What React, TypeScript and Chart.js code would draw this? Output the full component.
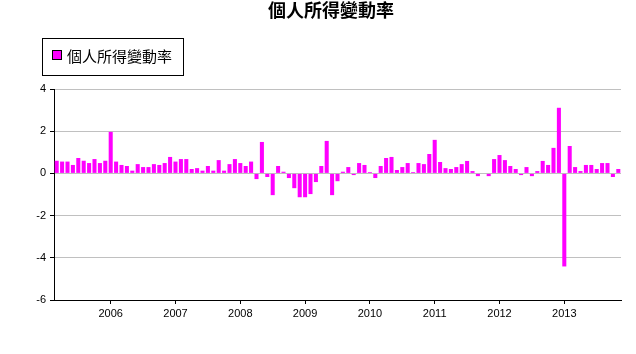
import React, { useEffect, useRef } from "react";
import { Chart, registerables } from "chart.js";

Chart.register(...registerables);

const TITLE = "個人所得變動率";
const SERIES_NAME = "個人所得變動率";
const START_YEAR = 2005;
const START_MONTH = 3;

const values2005 = [0.6, 0.56, 0.56, 0.4, 0.73, 0.6, 0.49, 0.68, 0.49, 0.6];
const values2006 = [1.97, 0.56, 0.4, 0.35, 0.13, 0.44, 0.3, 0.3, 0.44, 0.4, 0.49, 0.78];
const values2007 = [0.56, 0.68, 0.68, 0.21, 0.25, 0.13, 0.35, 0.13, 0.63, 0.13, 0.44, 0.68];
const values2008 = [0.49, 0.35, 0.56, -0.27, 1.49, -0.17, -1.03, 0.35, 0.08, -0.22, -0.7, -1.13];
const values2009 = [-1.13, -0.98, -0.41, 0.35, 1.54, -1.03, -0.37, 0.08, 0.3, -0.08, 0.49, 0.4];
const values2010 = [0.06, -0.22, 0.35, 0.73, 0.78, 0.16, 0.3, 0.49, 0.06, 0.49, 0.44, 0.92];
const values2011 = [1.59, 0.54, 0.25, 0.21, 0.3, 0.44, 0.59, 0.11, -0.13, 0, -0.13, 0.68];
const values2012 = [0.87, 0.63, 0.35, 0.21, -0.08, 0.3, -0.13, 0.11, 0.59, 0.4, 1.21, 3.11];
const values2013 = [-4.41, 1.3, 0.3, 0.11, 0.4, 0.4, 0.21, 0.49, 0.49, -0.17, 0.21];

const values = [
  ...values2005,
  ...values2006,
  ...values2007,
  ...values2008,
  ...values2009,
  ...values2010,
  ...values2011,
  ...values2012,
  ...values2013,
];

const categories: string[] = values.map((_, i) => {
  const m0 = START_MONTH - 1 + i;
  const y = START_YEAR + Math.floor(m0 / 12);
  const m = (m0 % 12) + 1;
  return `${y}-${m < 10 ? "0" + m : m}`;
});

const yTicks = [-6, -4, -2, 0, 2, 4];

const BAR_COLOR = "#FF00FF";
const AXIS_FONT = "'Liberation Sans', Arial, sans-serif";
const CJK_FONT = "'Noto Sans CJK TC', 'Noto Sans CJK SC', sans-serif";

const overlayPlugin = {
  id: "overlay",
  afterDraw(chart: any) {
    const ctx = chart.ctx;
    ctx.save();
    // title
    ctx.fillStyle = "#000";
    ctx.font = `bold 18px ${CJK_FONT}`;
    ctx.textAlign = "center";
    ctx.textBaseline = "middle";
    ctx.fillText(TITLE, 331, 10);
    // legend box
    ctx.strokeStyle = "#000";
    ctx.lineWidth = 1;
    ctx.fillStyle = "#fff";
    ctx.fillRect(42.5, 38.5, 141, 37);
    ctx.strokeRect(42.5, 38.5, 141, 37);
    ctx.fillStyle = BAR_COLOR;
    ctx.fillRect(52.5, 50.5, 9, 9);
    ctx.strokeRect(52.5, 50.5, 9, 9);
    ctx.fillStyle = "#000";
    ctx.font = `15px ${CJK_FONT}`;
    ctx.textAlign = "left";
    ctx.textBaseline = "middle";
    ctx.fillText(SERIES_NAME, 67, 56);
    ctx.restore();
  },
};

export default function App() {
  const ref = useRef<HTMLCanvasElement | null>(null);
  useEffect(() => {
    if (!ref.current) return;
    const chart = new Chart(ref.current, {
      type: "bar",
      data: {
        labels: categories,
        datasets: [
          {
            label: SERIES_NAME,
            data: values,
            backgroundColor: BAR_COLOR,
            borderWidth: 0,
            barPercentage: 0.75,
            categoryPercentage: 1,
          },
        ],
      },
      options: {
        animation: false,
        responsive: false,
        maintainAspectRatio: false,
        layout: { padding: { left: 0, top: 89, right: 15, bottom: 0 } },
        plugins: {
          legend: { display: false },
          title: { display: false },
          tooltip: { enabled: false },
        },
        scales: {
          x: {
            type: "category",
            offset: true,
            afterFit: (s: any) => {
              s.height = 54;
            },
            grid: {
              offset: false,
              drawOnChartArea: false,
              drawTicks: true,
              tickLength: 4,
              tickColor: (c: any) => {
                const lbl = categories[c.index];
                return lbl && lbl.endsWith("-01") ? "#000" : "rgba(0,0,0,0)";
              },
            },
            border: { display: true, color: "#000", width: 1 },
            ticks: {
              autoSkip: false,
              maxRotation: 0,
              minRotation: 0,
              padding: 3,
              color: "#000",
              font: { family: AXIS_FONT, size: 11 },
              callback: (_v: any, i: number) => {
                const lbl = categories[i];
                return lbl.endsWith("-01") ? lbl.slice(0, 4) : "";
              },
            },
          },
          y: {
            min: yTicks[0],
            max: yTicks[yTicks.length - 1],
            afterFit: (s: any) => {
              s.width = 54;
            },
            afterBuildTicks: (s: any) => {
              s.ticks = yTicks.map((v) => ({ value: v }));
            },
            grid: {
              color: "#c0c0c0",
              lineWidth: 1,
              tickLength: 4,
              tickColor: "#000",
            },
            border: { display: true, color: "#000", width: 1 },
            ticks: {
              padding: 4,
              color: "#000",
              font: { family: AXIS_FONT, size: 11 },
            },
          },
        },
      },
      plugins: [overlayPlugin],
    });
    return () => chart.destroy();
  }, []);
  return (
    <div style={{ position: "fixed", left: 0, top: 0, width: 636, height: 354, background: "#fff" }}>
      <canvas ref={ref} width={636} height={354} style={{ width: 636, height: 354 }} />
    </div>
  );
}
